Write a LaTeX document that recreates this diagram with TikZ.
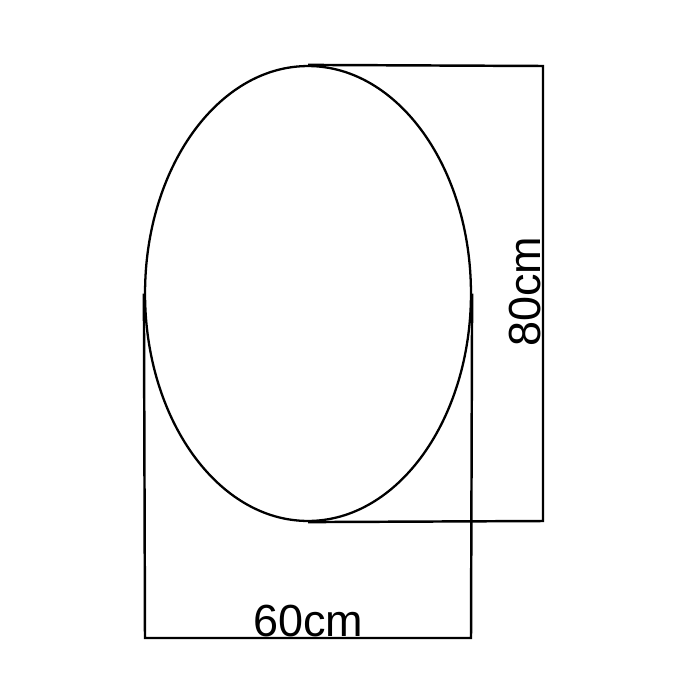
\documentclass[tikz,border=0pt]{standalone}
\usepackage{fontspec}
\setmainfont{Liberation Sans}
\usetikzlibrary{shapes.geometric}

\begin{document}
\begin{tikzpicture}[x=0.02cm, y=-0.02cm,
                dimline/.style={line width=1.4pt},
                dimlabel/.style={inner sep=0pt, font=\fontsize{25.6}{30}\selectfont}]
                \useasboundingbox (0, 0) rectangle (700, 700);
                \node[ellipse, draw, line width=1.3pt, inner sep=0pt, minimum width=6.52cm, minimum height=9.1cm] (mirror) at (308, 293.5) {};
                \coordinate (rtop) at (543, 66);
                \coordinate (rbot) at (543, 521);
                \coordinate (bleft) at (145, 638);
                \coordinate (bright) at (471, 638);
                \draw[dimline] (mirror.north) -- (rtop) -- (rbot) -- (mirror.south);
                \draw[dimline] (mirror.west) -- (bleft) -- (bright) -- (mirror.east);
                \node[dimlabel, rotate=90, anchor=south] (height) at (541, 292) {80cm};
                \node[dimlabel, anchor=south] (width) at (308, 637) {60cm};
            \end{tikzpicture}
\end{document}
